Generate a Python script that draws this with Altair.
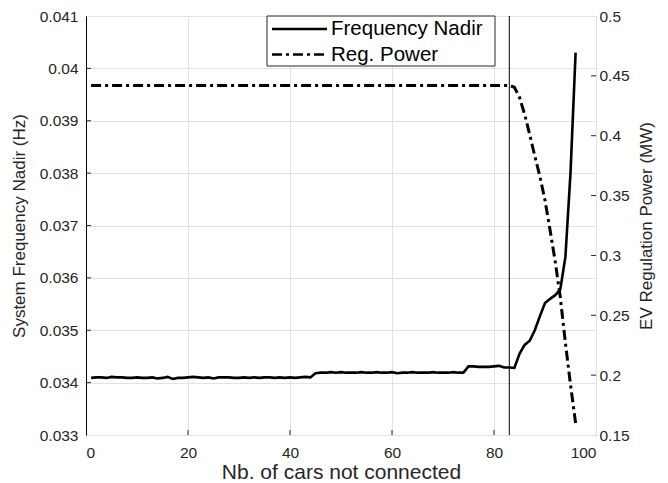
import altair as alt
import pandas as pd

# ---------------- data ----------------
cars = list(range(1, 97))

freq_nadir = [
    0.03409, 0.03410, 0.03410, 0.03409, 0.03411, 0.03410, 0.03410, 0.03409, 0.03409, 0.03410,
    0.03409, 0.03409, 0.03410, 0.03408, 0.03409, 0.03411, 0.03407, 0.03409, 0.03409, 0.03410,
    0.03411, 0.03410, 0.03409, 0.03410, 0.03408, 0.03410, 0.03410, 0.03410, 0.03409, 0.03409,
    0.03410, 0.03409, 0.03410, 0.03409, 0.03410, 0.03410, 0.03409, 0.03410, 0.03409, 0.03410,
    0.03409, 0.03410, 0.03411, 0.03410, 0.03418, 0.03419, 0.03419, 0.03420, 0.03419, 0.03420,
    0.03419, 0.03419, 0.03419, 0.03420, 0.03419, 0.03419, 0.03420, 0.03419, 0.03419, 0.03420,
    0.03418, 0.03419, 0.03419, 0.03420, 0.03419, 0.03419, 0.03419, 0.03420, 0.03419, 0.03419,
    0.03419, 0.03420, 0.03419, 0.03419, 0.03431, 0.03431, 0.03430, 0.03430, 0.03430, 0.03431,
    0.03432, 0.03429, 0.03429, 0.03428, 0.03455, 0.03472, 0.03480, 0.03500, 0.03527, 0.03552,
    0.03560, 0.03567, 0.03578, 0.03640, 0.03800, 0.04030,
]

reg_power = [
    0.442, 0.442, 0.442, 0.442, 0.442, 0.442, 0.442, 0.442, 0.442, 0.442,
    0.442, 0.442, 0.442, 0.442, 0.442, 0.442, 0.442, 0.442, 0.442, 0.442,
    0.442, 0.442, 0.442, 0.442, 0.442, 0.442, 0.442, 0.442, 0.442, 0.442,
    0.442, 0.442, 0.442, 0.442, 0.442, 0.442, 0.442, 0.442, 0.442, 0.442,
    0.442, 0.442, 0.442, 0.442, 0.442, 0.442, 0.442, 0.442, 0.442, 0.442,
    0.442, 0.442, 0.442, 0.442, 0.442, 0.442, 0.442, 0.442, 0.442, 0.442,
    0.442, 0.442, 0.442, 0.442, 0.442, 0.442, 0.442, 0.442, 0.442, 0.442,
    0.442, 0.442, 0.442, 0.442, 0.442, 0.442, 0.442, 0.442, 0.442, 0.442,
    0.442, 0.442, 0.442, 0.4405, 0.432, 0.418, 0.401, 0.383, 0.366, 0.346,
    0.321, 0.295, 0.265, 0.227, 0.192, 0.160,
]

series_names = ["Frequency Nadir", "Reg. Power"]
x_ticks = [0, 20, 40, 60, 80, 100]
x_inner_ticks = [20, 40, 60, 80]
left_ticks = [0.033, 0.034, 0.035, 0.036, 0.037, 0.038, 0.039, 0.040, 0.041]
left_inner_ticks = [0.034, 0.035, 0.036, 0.037, 0.038, 0.039, 0.040]
right_ticks = [0.15, 0.2, 0.25, 0.3, 0.35, 0.4, 0.45, 0.5]
right_inner_ticks = [0.2, 0.25, 0.3, 0.35, 0.4, 0.45]
threshold = [83]

# ---------------- style ----------------
W, H = 510, 419
FONT = "Liberation Sans"
TXT = "#262626"
GRID = "#e2e2e2"
TICK_FS = 15.5

df = pd.DataFrame({"cars": cars, "freq": freq_nadir, "power": reg_power})

x_scale = alt.Scale(domain=[0, 100], nice=False, zero=False)
left_scale = alt.Scale(domain=[0.033, 0.041], nice=False, zero=False)
right_scale = alt.Scale(domain=[0.15, 0.5], nice=False, zero=False)

x_axis = alt.Axis(
    values=x_ticks, title="Nb. of cars not connected", grid=True, gridColor=GRID,
    tickSize=0, domain=False, labelFontSize=TICK_FS, titleFontSize=21,
    labelPadding=10, titlePadding=1, labelColor=TXT, titleColor=TXT,
    labelFont=FONT, titleFont=FONT, titleFontWeight="normal",
)


def xenc(field):
    return alt.X(f"{field}:Q", scale=x_scale, axis=x_axis)


freq_line = alt.Chart(df).mark_line(color="black", strokeWidth=2.6).encode(
    x=xenc("cars"),
    y=alt.Y(
        "freq:Q", scale=left_scale,
        axis=alt.Axis(
            values=left_ticks, format=".3~f", title="System Frequency Nadir (Hz)",
            grid=True, gridColor=GRID, tickSize=0, domain=True, domainColor="black",
            labelFontSize=TICK_FS, titleFontSize=17, labelPadding=8, titlePadding=11,
            labelColor=TXT, titleColor=TXT, labelFont=FONT, titleFont=FONT,
            titleFontWeight="normal",
        ),
    ),
)

power_line = alt.Chart(df).mark_line(
    color="black", strokeWidth=3, strokeDash=[10, 4, 3, 4]
).encode(
    x=xenc("cars"),
    y=alt.Y(
        "power:Q", scale=right_scale,
        axis=alt.Axis(
            orient="right", values=right_ticks, format=".2~f",
            title="EV Regulation Power (MW)", grid=False, tickSize=0, domain=False,
            labelFontSize=TICK_FS, titleFontSize=17, labelPadding=3, titlePadding=9,
            titleAngle=270, titleBaseline="top",
            labelColor=TXT, titleColor=TXT, labelFont=FONT, titleFont=FONT,
            titleFontWeight="normal",
        ),
    ),
)

vline = alt.Chart(pd.DataFrame({"cars": threshold})).mark_rule(
    color="black", strokeWidth=1
).encode(x=xenc("cars"))

# inward ticks
lt = alt.Chart(pd.DataFrame({"v": left_inner_ticks})).mark_rule(color=TXT, strokeWidth=1).encode(
    y=alt.Y("v:Q", scale=left_scale, axis=None), x=alt.value(0), x2=alt.value(5)
)
rt = alt.Chart(pd.DataFrame({"v": right_inner_ticks})).mark_rule(color=TXT, strokeWidth=1).encode(
    y=alt.Y("v:Q", scale=right_scale, axis=None), x=alt.value(W - 5), x2=alt.value(W)
)
bt = alt.Chart(pd.DataFrame({"cars": x_inner_ticks})).mark_rule(color=TXT, strokeWidth=1).encode(
    x=xenc("cars"), y=alt.value(H - 5), y2=alt.value(H)
)

# legend (manual)
one = pd.DataFrame({"k": [0]})
LX0, LX1, LY0, LY1 = 181, 409, 0, 50
ROW1, ROW2 = 13, 38.5
box = alt.Chart(one).mark_rect(fill="white", stroke=TXT, strokeWidth=1).encode(
    x=alt.value(LX0), x2=alt.value(LX1), y=alt.value(LY0), y2=alt.value(LY1)
)
sym1 = alt.Chart(one).mark_rule(color="black", strokeWidth=2.4).encode(
    x=alt.value(LX0 + 5), x2=alt.value(LX0 + 60), y=alt.value(ROW1)
)
sym2 = alt.Chart(one).mark_rule(color="black", strokeWidth=2.4, strokeDash=[10, 4, 3, 4]).encode(
    x=alt.value(LX0 + 5), x2=alt.value(LX0 + 60), y=alt.value(ROW2)
)
lab1 = alt.Chart(one).mark_text(
    align="left", baseline="middle", fontSize=20.5, font=FONT, color="black"
).encode(x=alt.value(LX0 + 64), y=alt.value(ROW1), text=alt.value(series_names[0]))
lab2 = alt.Chart(one).mark_text(
    align="left", baseline="middle", fontSize=20.5, font=FONT, color="black"
).encode(x=alt.value(LX0 + 64), y=alt.value(ROW2), text=alt.value(series_names[1]))

chart = (
    alt.layer(freq_line, power_line, vline, lt, rt, bt, box, sym1, sym2, lab1, lab2)
    .resolve_scale(y="independent")
    .properties(
        width=W, height=H,
        autosize=alt.AutoSizeParams(type="none"),
        padding={"left": 78, "top": 8, "right": 64, "bottom": 48},
        background="white",
    )
    .configure_view(stroke="#555555", strokeWidth=1)
)

chart.save("out.html", embed_options={"renderer": "svg", "actions": False})
